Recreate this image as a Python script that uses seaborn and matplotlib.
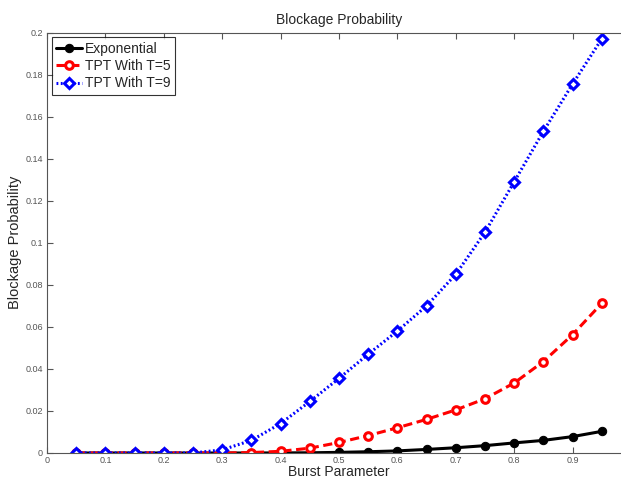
import matplotlib
matplotlib.use("Agg")
import matplotlib.pyplot as plt
import seaborn as sns
import numpy as np

x = [0.05, 0.10, 0.15, 0.20, 0.25, 0.30, 0.35, 0.40, 0.45, 0.50,
     0.55, 0.60, 0.65, 0.70, 0.75, 0.80, 0.85, 0.90, 0.95]
exponential = [0, 0, 0, 0, 0, 0, 0, 0.00005, 0.0001, 0.0003,
               0.0006, 0.001, 0.0017, 0.0025, 0.0035, 0.0048, 0.006, 0.0078, 0.0103]
tpt5 = [0, 0, 0, 0, 0, 0, 0.0002, 0.0008, 0.0023, 0.005,
        0.0083, 0.012, 0.016, 0.0205, 0.0258, 0.0333, 0.0435, 0.0563, 0.0712]
tpt9 = [0, 0, 0, 0, 0, 0.0015, 0.006, 0.014, 0.0245, 0.0355,
        0.047, 0.058, 0.070, 0.085, 0.105, 0.129, 0.153, 0.1755, 0.197]
labels = ["Exponential", "TPT With T=5", "TPT With T=9"]
xticks = [0, 0.1, 0.2, 0.3, 0.4, 0.5, 0.6, 0.7, 0.8, 0.9]
xticklabels = ["0", "0.1", "0.2", "0.3", "0.4", "0.5", "0.6", "0.7", "0.8", "0.9"]
yticks = [0, 0.02, 0.04, 0.06, 0.08, 0.1, 0.12, 0.14, 0.16, 0.18, 0.2]
yticklabels = ["0", "0.02", "0.04", "0.06", "0.08", "0.1", "0.12", "0.14", "0.16", "0.18", "0.2"]

sns.set_style("white")
plt.rcParams['font.family'] = ['Liberation Sans', 'DejaVu Sans']

fig = plt.figure(figsize=(6.21, 4.78), dpi=100)
ax = fig.add_axes([47/621, 25/478, 584/621, 420.5/478])

sns.lineplot(x=x, y=exponential, ax=ax, color="black", linestyle="-", linewidth=2.2,
             marker="o", markersize=6, markerfacecolor="black", markeredgecolor="black",
             label=labels[0])
sns.lineplot(x=x, y=tpt5, ax=ax, color="#ff0000", linestyle=(0, (3, 1.5)), linewidth=2.2,
             marker="o", markersize=5.5, markerfacecolor="white", markeredgecolor="#ff0000",
             markeredgewidth=2.2, label=labels[1])
sns.lineplot(x=x, y=tpt9, ax=ax, color="#0000ff", linestyle=(0, (0.6, 0.8)), linewidth=2.2,
             marker="D", markersize=5, markerfacecolor="white", markeredgecolor="#0000ff",
             markeredgewidth=2.2, label=labels[2])

ax.set_xlim(0, 1)
ax.set_ylim(0, 0.2)
ax.set_xticks(xticks)
ax.set_xticklabels(xticklabels)
ax.set_yticks(yticks)
ax.set_yticklabels(yticklabels)
ax.tick_params(direction="in", length=4, width=0.8, colors="#555555", labelsize=6.5,
               top=True, right=True, bottom=True, left=True, pad=3)
ax.tick_params(axis="x", pad=2)
for s in ax.spines.values():
    s.set_visible(True)
    s.set_color("#555555")
    s.set_linewidth(0.8)

ax.set_title("Blockage Probability", fontsize=10, pad=6)
ax.set_xlabel("Burst Parameter", fontsize=10, labelpad=0.5)
ax.set_ylabel("Blockage Probability", fontsize=10.5, labelpad=2)

leg = ax.legend(loc="upper left", fontsize=10, frameon=True, fancybox=False,
                edgecolor="black", borderpad=0.3, labelspacing=0.25,
                handlelength=1.9, handletextpad=0.2, borderaxespad=0.35)
leg.get_frame().set_linewidth(0.8)

fig.savefig("out.png", dpi=100, facecolor="white")
